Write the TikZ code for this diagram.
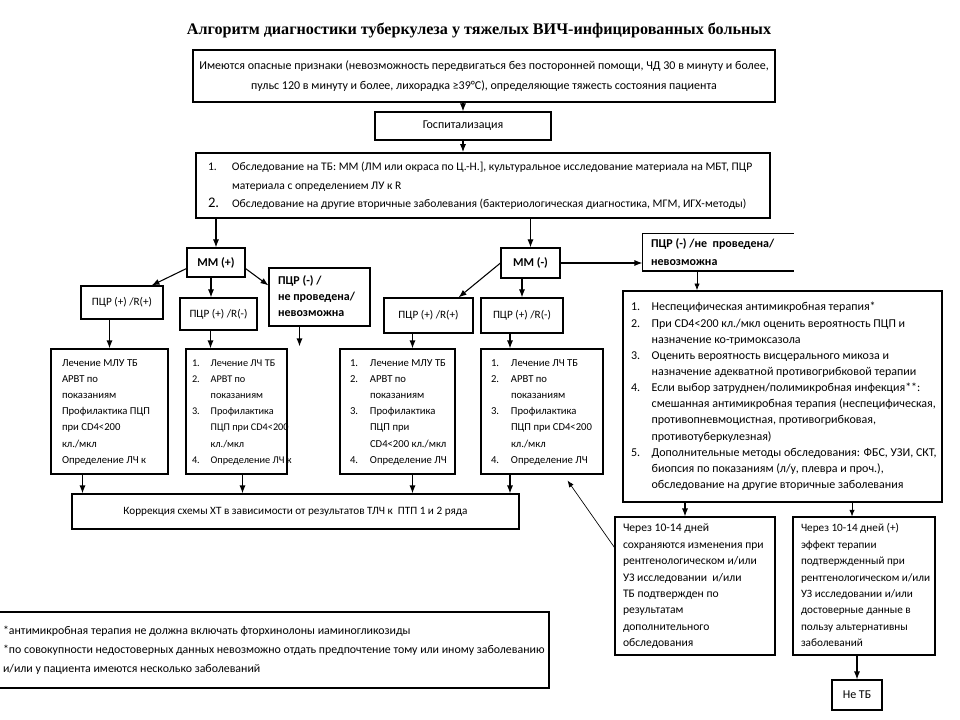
\documentclass[tikz,border=0pt]{standalone}
\usepackage{fontspec}
\setmainfont{Carlito}
\newfontfamily\titlefont{Liberation Serif}
\usetikzlibrary{arrows.meta,calc}

\newdimen\pxu \pxu=0.75pt
% numbered lines
\newcommand\itm[2][15.5pt]{\makebox[#1][l]{#2}}
\newcommand\cnt[1][15.5pt]{\hspace*{#1}}
% left aligned block of given width (in px)
\newcommand\lbox[2]{\makebox[#1\pxu][l]{\begin{tabular}{@{}l@{}}#2\end{tabular}}}

\tikzset{
  box/.style={draw, line width=0.8pt, inner sep=0pt, font=\fontsize{9}{12.2}\selectfont},
  heavy/.style={line width=1.2pt},
  small/.style={font=\fontsize{8.4}{12}\selectfont},
  treat/.style={font=\fontsize{8}{12.15}\selectfont},
  sz/.style 2 args={minimum width=#1*0.75pt, minimum height=#2*0.75pt},
  arr/.style={-{Latex[length=6pt,width=4.5pt]}, line width=0.8pt},
  thinarr/.style={-{Latex[length=5pt,width=4pt]}, line width=0.5pt},
}

\begin{document}
\begin{tikzpicture}[x=0.75pt,y=-0.75pt]
	\useasboundingbox (0,0) rectangle (960,720);
	\fill[white] (0,0) rectangle (960,720);

	%Title
	\node[font=\titlefont\bfseries\fontsize{12.1}{15}\selectfont] (title) at (479,30) {Алгоритм диагностики туберкулеза у тяжелых ВИЧ-инфицированных больных};

	%Upper part
	\node[box, sz={582}{52}, align=center, font=\fontsize{9}{15}\selectfont] (signs) at (484,76) {Имеются опасные признаки (невозможность передвигаться без посторонней помощи, ЧД 30 в минуту и более,\\пульс 120 в минуту и более, лихорадка ≥39°C), определяющие тяжесть состояния пациента};
	\node[box, sz={176}{28}] (hosp) at (463,126) {Госпитализация};
	\node[box, heavy, sz={574}{65}, font=\fontsize{8.7}{14}\selectfont] (exam) at (483,185.5) {\lbox{550}{\itm[18pt]{1.}Обследование на ТБ: ММ (ЛМ или окраса по Ц.-Н.], культуральное исследование материала на МБТ, ПЦР\\
		\cnt[18pt]материала с определением ЛУ к R\\
		\itm[18pt]{\fontsize{11}{14}\selectfont 2.}Обследование на другие вторичные заболевания (бактериологическая диагностика, МГМ, ИГХ-методы)}};

	%Microscopy
	\node[box, sz={58}{29}, font=\bfseries\fontsize{9}{12}\selectfont] (mmp) at (216,262.5) {ММ (+)};
	\node[box, sz={59}{30}, font=\bfseries\fontsize{9}{12}\selectfont] (mmm) at (530.5,263) {ММ (-)};

	%PCR results
	\node[box, small, sz={82}{33}] (pcr1) at (122,302.5) {ПЦР (+) /R(+)};
	\node[box, small, sz={77}{32}] (pcr2) at (218.5,314) {ПЦР (+) /R(-)};
	\node[box, sz={101}{58}, font=\bfseries\fontsize{9}{12}\selectfont] (pcrn1) at (319.5,297) {\lbox{83}{ПЦР (-) /\\не проведена/\\невозможна}};
	\node[box, small, sz={89}{35}] (pcr3) at (428.5,315.5) {ПЦР (+) /R(+)};
	\node[box, small, sz={82}{35}] (pcr4) at (522,315.5) {ПЦР (+) /R(-)};
	\node[box, draw=none, sz={150}{35}, font=\bfseries\fontsize{9}{13.5}\selectfont] (pcrn2) at (718,252.5) {\lbox{134}{ПЦР (-) /не\ \ проведена/\\невозможна}};
	\draw[line width=0.8pt] (pcrn2.north east) -- (pcrn2.north west) -- (pcrn2.south west) -- (pcrn2.south east);

	%Treatment
	\node[box, treat, sz={117}{125}] (tr1) at (109.5,411.5) {\lbox{95}{Лечение МЛУ ТБ\\
		АРВТ по\\
		показаниям\\
		Профилактика ПЦП\\
		при CD4<200\\
		кл./мкл\\
		Определение ЛЧ к}};
	\node[box, treat, font=\fontsize{7.7}{12.15}\selectfont, sz={101}{125}] (tr2) at (236.5,411.5) {\lbox{89}{\itm[14pt]{1.}Лечение ЛЧ ТБ\\
		\itm[14pt]{2.}АРВТ по\\
		\cnt[14pt]показаниям\\
		\itm[14pt]{3.}Профилактика\\
		\cnt[14pt]ПЦП при CD4<200\\
		\cnt[14pt]кл./мкл\\
		\itm[14pt]{4.}Определение ЛЧ к}};
	\node[box, treat, sz={115}{125}] (tr3) at (397.5,411.5) {\lbox{95}{\itm[15pt]{1.}Лечение МЛУ ТБ\\
		\itm[15pt]{2.}АРВТ по\\
		\cnt[15pt]показаниям\\
		\itm[15pt]{3.}Профилактика\\
		\cnt[15pt]ПЦП при\\
		\cnt[15pt]CD4<200 кл./мкл\\
		\itm[15pt]{4.}Определение ЛЧ}};
	\node[box, treat, sz={122}{125}] (tr4) at (542,411.5) {\lbox{102}{\itm[15pt]{1.}Лечение ЛЧ ТБ\\
		\itm[15pt]{2.}АРВТ по\\
		\cnt[15pt]показаниям\\
		\itm[15pt]{3.}Профилактика\\
		\cnt[15pt]ПЦП при CD4<200\\
		\cnt[15pt]кл./мкл\\
		\itm[15pt]{4.}Определение ЛЧ}};
	\node[box, font=\fontsize{8.4}{12}\selectfont, sz={447}{35}] (corr) at (295.5,511.5) {Коррекция схемы ХТ в зависимости от результатов ТЛЧ к\ \ ПТП 1 и 2 ряда};

	%Right branch
	\node[box, heavy, sz={319}{211}, font=\fontsize{9}{12.1}\selectfont] (nonsp) at (782.5,396.5) {\lbox{303}{\itm{1.}Неспецифическая антимикробная терапия*\\
		\itm{2.}При CD4<200 кл./мкл оценить вероятность ПЦП и\\
		\cnt назначение ко-тримоксазола\\
		\itm{3.}Оценить вероятность висцерального микоза и\\
		\cnt назначение адекватной противогрибковой терапии\\
		\itm{4.}Если выбор затруднен/полимикробная инфекция**:\\
		\cnt смешанная антимикробная терапия (неспецифическая,\\
		\cnt противопневмоцистная, противогрибковая,\\
		\cnt противотуберкулезная)\\
		\itm{5.}Дополнительные методы обследования: ФБС, УЗИ, СКТ,\\
		\cnt биопсия по показаниям (л/у, плевра и проч.),\\
		\cnt обследование на другие вторичные заболевания}};
	\node[box, sz={160}{138}, font=\fontsize{8.7}{12.3}\selectfont] (keep) at (695,586) {\lbox{144}{Через 10-14 дней\\
		сохраняются изменения при\\
		рентгенологическом и/или\\
		УЗ исследовании\ \ и/или\\
		ТБ подтвержден по\\
		результатам\\
		дополнительного\\
		обследования}};
	\node[box, sz={142}{138}, font=\fontsize{8.4}{12.3}\selectfont] (effect) at (864,586) {\lbox{126}{Через 10-14 дней (+)\\
		эффект терапии\\
		подтвержденный при\\
		рентгенологическом и/или\\
		УЗ исследовании и/или\\
		достоверные данные в\\
		пользу альтернативны\\
		заболеваний}};
	\node[box, sz={50}{30}] (notb) at (857,695) {Не ТБ};

	%Footnotes
	\node[box, sz={562}{76}, font=\fontsize{8.9}{14.3}\selectfont] (notes) at (268,650) {\lbox{530}{*антимикробная терапия не должна включать фторхинолоны иаминогликозиды\\
		**по совокупности недостоверных данных невозможно отдать предпочтение тому или иному заболеванию\\
		и/или у пациента имеются несколько заболеваний}};

	%Arrows
	\draw[arr] (hosp.north |- signs.south) -- (hosp.north);
	\draw[arr] (hosp.south) -- (hosp.south |- exam.north);
	\draw[arr] (mmp.north |- exam.south) -- (mmp.north);
	\draw[arr] (mmm.north |- exam.south) -- (mmm.north);

	\draw[arr] ($(mmp.south west)+(0,-9)$) -- ($(pcr1.north east)+(-12,0)$);
	\coordinate (mmpb) at ($(mmp.south)+(-5,0)$);
	\draw[arr] (mmpb) -- (mmpb |- pcr2.north);
	\draw[arr] ($(mmp.south east)+(0,-9)$) -- ($(pcrn1.north west)+(0,18)$);
	\draw[arr] (mmm.west) -- ($(pcr3.north east)+(-15,0)$);
	\draw[arr] (pcr4.north |- mmm.south) -- (pcr4.north);
	\draw[arr] (mmm.east) -- (mmm.east -| pcrn2.west);

	\draw[arr] (tr1.north |- pcr1.south) -- (tr1.north);
	\coordinate (p2b) at ($(pcr2.south)+(-8,0)$);
	\draw[arr] (p2b) -- (p2b |- tr2.north);
	\coordinate (pn1b) at ($(pcrn1.south)+(-20,0)$);
	\draw[arr] (pn1b) -- ($(pn1b |- tr2.north)+(0,-2)$);
	\coordinate (p3b) at ($(pcr3.south)+(-16,0)$);
	\draw[arr] (p3b) -- (p3b |- tr3.north);
	\coordinate (p4b) at ($(pcr4.south)+(-12,0)$);
	\draw[arr] (p4b) -- (p4b |- tr4.north);

	\coordinate (t1b) at ($(tr1.south)+(-27,0)$);
	\draw[arr] (t1b) -- (t1b |- corr.north);
	\coordinate (t2b) at ($(tr2.south)+(6,0)$);
	\draw[arr] (t2b) -- (t2b |- corr.north);
	\coordinate (t3b) at ($(tr3.south)+(15,0)$);
	\draw[arr] (t3b) -- (t3b |- corr.north);
	\coordinate (t4b) at ($(tr4.south)+(-32,0)$);
	\draw[arr] (t4b) -- (t4b |- corr.north);

	\coordinate (pn2b) at ($(pcrn2.south)+(-21,0)$);
	\draw[thinarr] (pn2b) -- (pn2b |- nonsp.north);
	\coordinate (keept) at ($(keep.north)+(-10,0)$);
	\draw[arr] (keept |- nonsp.south) -- (keept);
	\coordinate (efft) at ($(effect.north)+(-12,0)$);
	\draw[thinarr] (efft |- nonsp.south) -- (efft);
	\draw[arr] (notb.north |- effect.south) -- (notb.north);
	\draw[thinarr] ($(keep.north west)+(0,31)$) -- ($(tr4.south east)+(-36,6)$);

\end{tikzpicture}
\end{document}
